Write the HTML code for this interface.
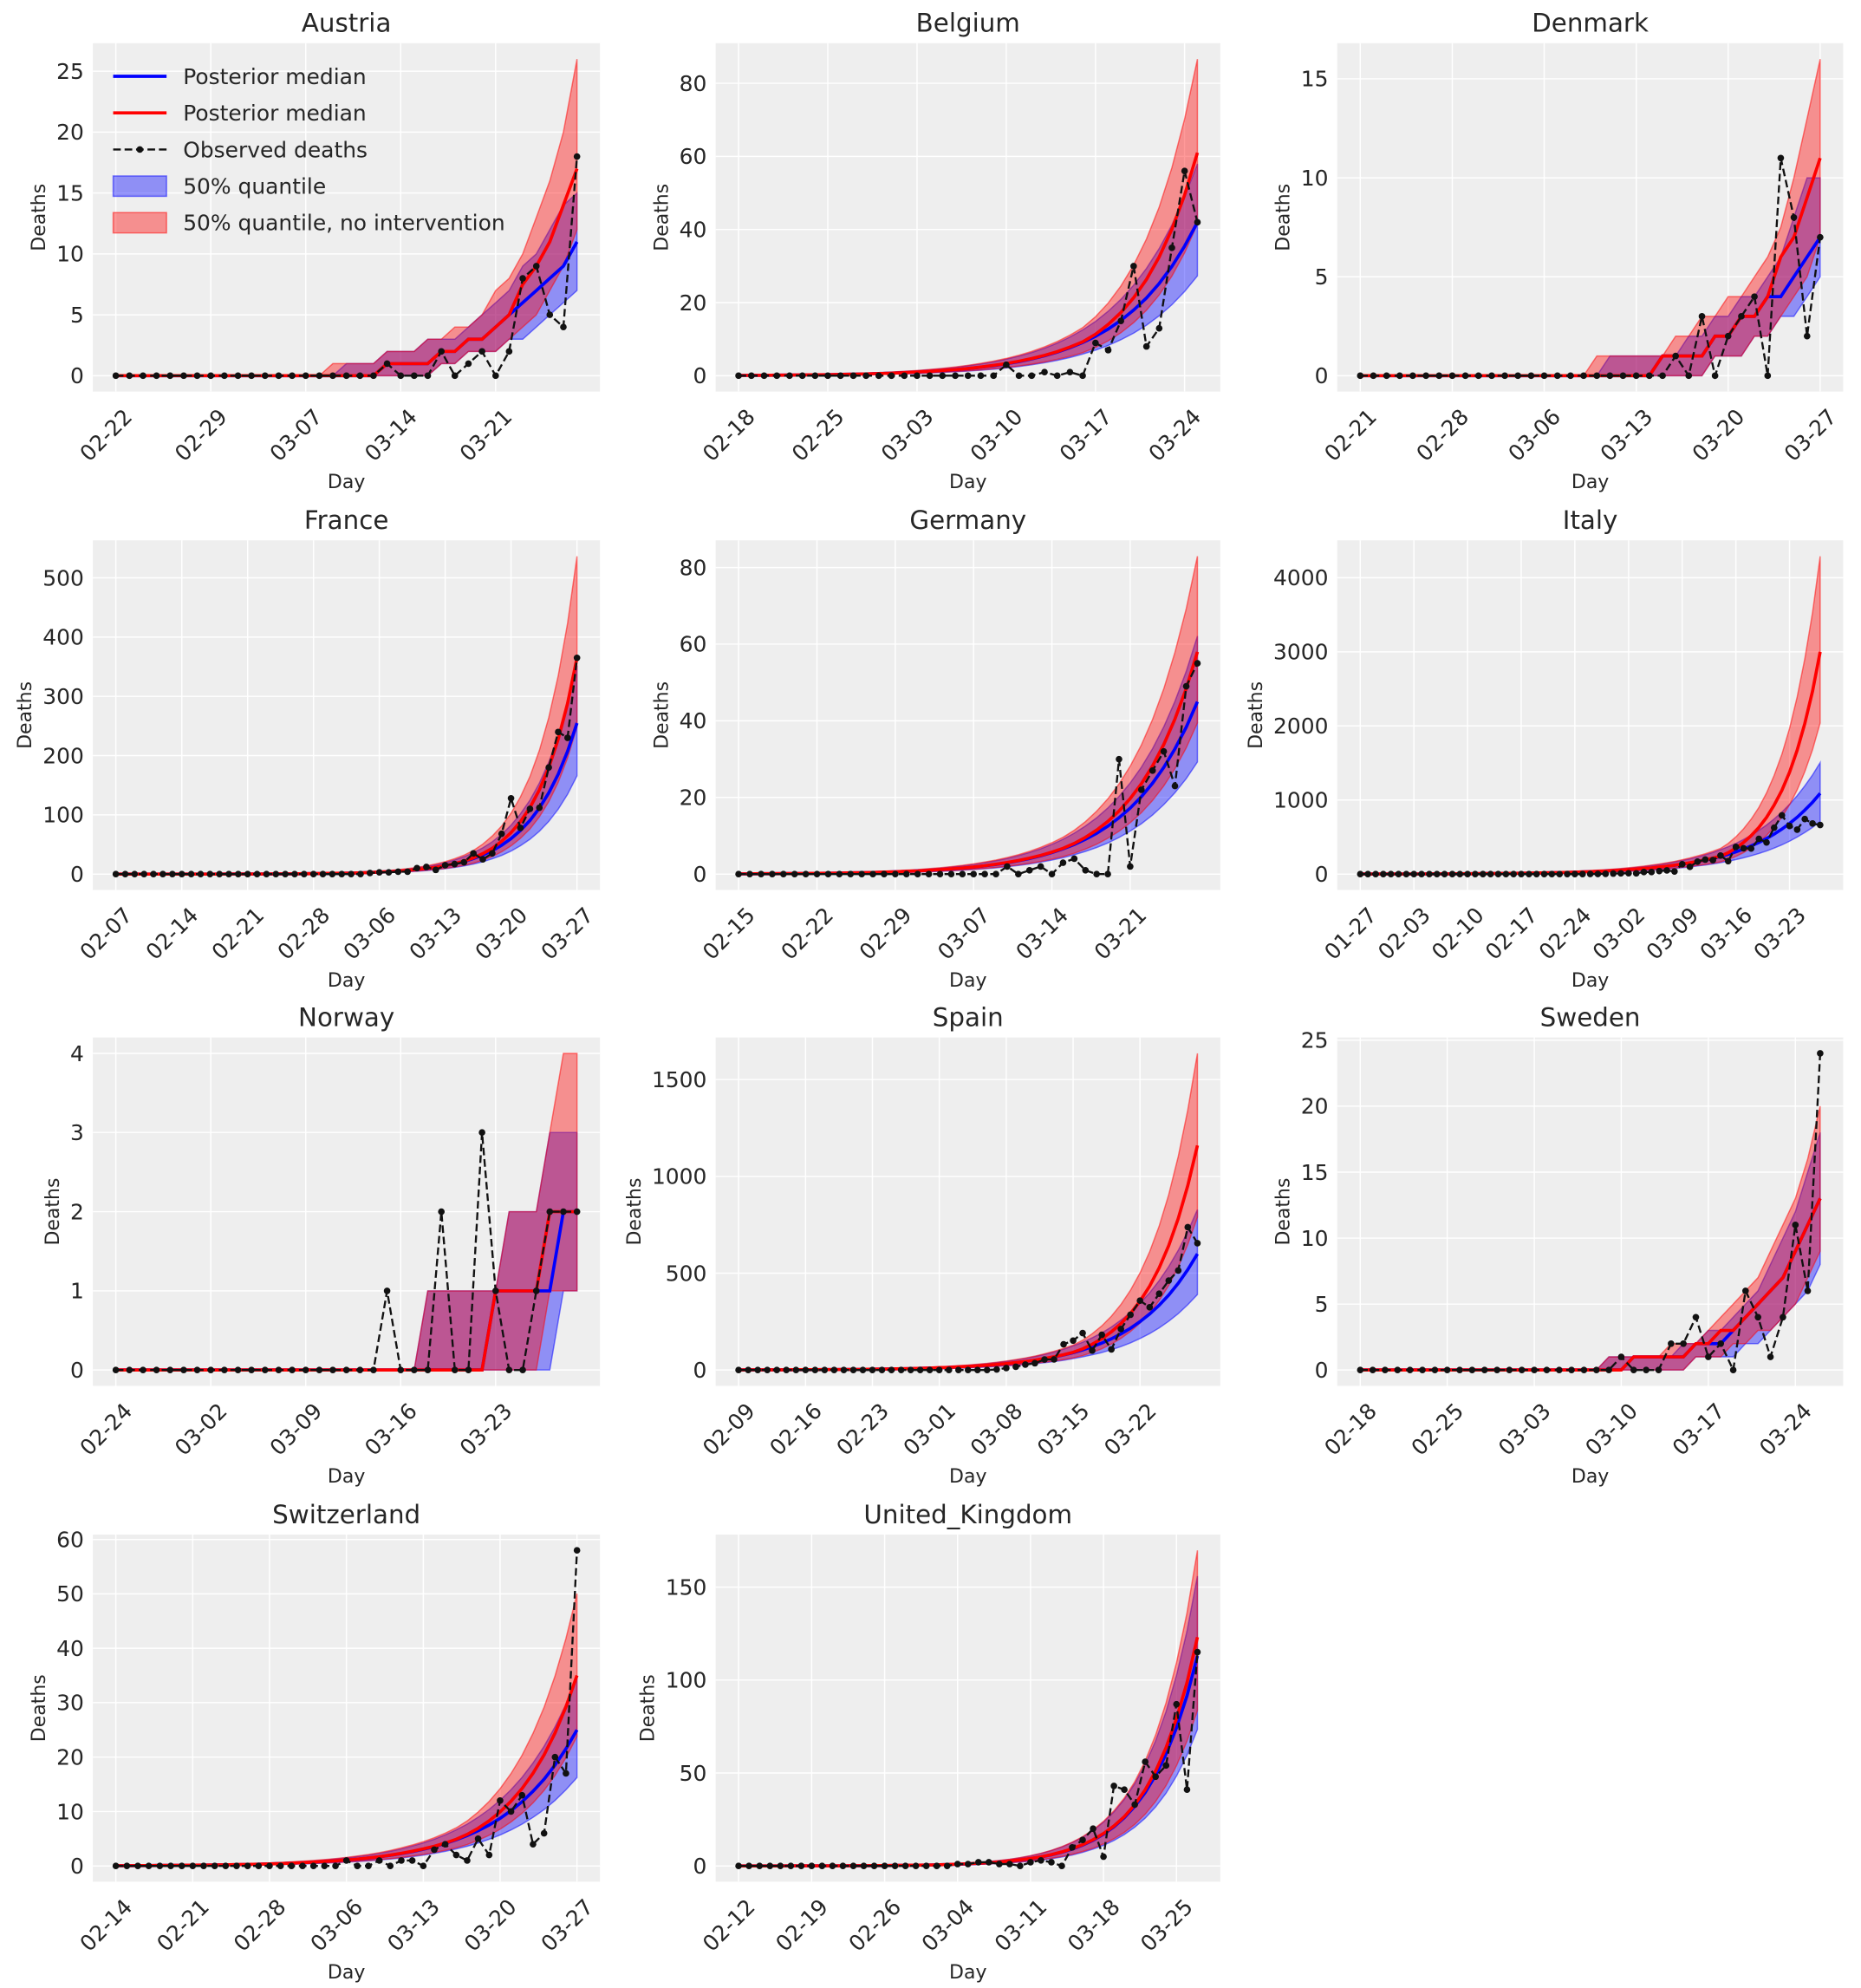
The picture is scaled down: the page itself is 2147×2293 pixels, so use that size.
<!DOCTYPE html>
<html><head><meta charset="utf-8"><style>
html,body{margin:0;padding:0;background:#fff}
svg{display:block}
text{font-family:"DejaVu Sans","Liberation Sans",sans-serif;fill:#262626}
</style></head><body>
<svg id="s" xmlns="http://www.w3.org/2000/svg" width="2147" height="2293" viewBox="0 0 1464 1563.6"></svg>
<script>
const Z=n=>Array(n).fill(0);
const P=(n,a)=>Z(n-a.length).concat(a);
const C=[
{name:"Austria",start:[2,22],obs:Z(20).concat([1,0,0,0,2,0,1,2,0,2,8,9,5,4,18]),ticks:[0,5,10,15,20,25],
 man:{mb:P(35,[1,1,1,1,2,2,3,3,4,5,6,7,8,9,11]),mr:P(35,[1,1,1,1,2,2,3,3,4,5,7.5,9,11,14,17]),
 bl:P(35,[1,1,2,2,2,3,3,4,5,6,7]),bh:P(35,[1,1,1,2,2,2,3,3,3,4,5,6,7,9,10,12,14,15]),
 rl:P(35,[1,1,2,2,2,3,4,5,7,9,12]),rh:P(35,[1,1,1,1,2,2,2,3,3,4,4,5,7,8,10,13,16,20,26])}},
{name:"Belgium",start:[2,18],obs:Z(21).concat([3,0,0,1,0,1,0,9,7,15,30,8,13,35,56,42]),B:42,R:61,rB:0.17,rR:0.21,rf:1.42,ticks:[0,20,40,60,80]},
{name:"Denmark",start:[2,21],obs:Z(24).concat([1,0,3,0,2,3,4,0,11,8,2,7]),ticks:[0,5,10,15],
 man:{mb:P(36,[1,1,1,1,2,2,3,3,4,4,5,6,7]),mr:P(36,[1,1,1,1,2,2,3,3,4,6,7,9,11]),
 bl:P(36,[1,1,1,2,2,3,3,4,5]),bh:P(36,[1,1,1,1,1,1,2,2,3,3,4,4,5,6,8,10,10]),
 rl:P(36,[1,1,1,2,2,3,4,5,7]),rh:P(36,[1,1,1,1,1,1,2,2,3,3,4,4,5,6,7.5,10,13,16])}},
{name:"France",start:[2,7],obs:Z(27).concat([2,3,3,4,4,10,12,7,15,17,20,35,25,35,68,128,78,110,112,180,240,230,365]),B:255,R:365,rB:0.207,rR:0.236,rf:1.47,ticks:[0,100,200,300,400,500]},
{name:"Germany",start:[2,15],obs:Z(24).concat([2,0,1,2,0,3,4,1,0,0,30,2,22,27,32,23,49,55]),B:45,R:58,rB:0.16,rR:0.18,rf:1.43,ticks:[0,20,40,60,80]},
{name:"Italy",start:[1,27],obs:Z(30).concat([1,2,3,7,10,12,11,27,28,41,49,36,133,97,168,196,189,250,175,368,349,345,475,427,627,793,651,601,743,683,662]),B:1090,R:3000,rB:0.117,rR:0.195,rf:1.43,ticks:[0,1000,2000,3000,4000]},
{name:"Norway",start:[2,24],obs:Z(20).concat([1,0,0,0,2,0,0,3,1,0,0,1,2,2,2]),ticks:[0,1,2,3,4],
 man:{mb:P(35,[1,1,1,1,1,2,2]),mr:P(35,[1,1,1,1,2,2,2]),
 bl:P(35,[1,1]),bh:P(35,[1,1,1,1,1,1,2,2,2,3,3,3]),
 rl:P(35,[1,1,1]),rh:P(35,[1,1,1,1,1,1,2,2,2,3,4,4])}},
{name:"Spain",start:[2,9],obs:Z(27).concat([3,10,17,28,35,54,55,133,152,191,100,182,107,212,285,358,324,394,462,514,738,655]),B:600,R:1160,rB:0.146,rR:0.197,rf:1.41,ticks:[0,500,1000,1500]},
{name:"Sweden",start:[2,18],obs:Z(20).concat([0,1,0,0,0,2,2,4,1,2,0,6,4,1,4,11,6,24]),B:13,R:13,rB:0.208,rR:0.208,round:1,ticks:[0,5,10,15,20,25]},
{name:"Switzerland",start:[2,14],obs:Z(21).concat([1,0,0,1,0,1,1,0,3,4,2,1,5,2,12,10,13,4,6,20,17,58]),B:25,R:35,rB:0.15,rR:0.18,rf:1.43,ticks:[0,10,20,30,40,50,60]},
{name:"United_Kingdom",start:[2,12],obs:Z(21).concat([1,1,2,2,1,1,0,2,3,2,0,10,14,20,5,43,41,33,56,48,54,87,41,115]),B:113,R:123,rB:0.21,rR:0.22,rf:1.38,ticks:[0,50,100,150]}
];
const cols=[[73,472],[563,960],[1052,1450]],rows=[[34,308],[425,700],[816,1090],[1207,1480]];
let out="";
const f=v=>v.toFixed(1);
C.forEach((c,i)=>{
 const [x0,x1]=cols[i%3],[y0,y1]=rows[Math.floor(i/3)];
 const n=c.obs.length,last=n-1;
 let mb=[],mr=[],bl=[],bh=[],rl=[],rh=[];
 if(c.man){({mb,mr,bl,bh,rl,rh}=c.man);}
 else {
  const rf=c.rf||1.5;
  for(let t=0;t<n;t++){
   let b=c.B*Math.exp(c.rB*(t-last)), r=Math.max(b*1.02,c.R*Math.exp(c.rR*(t-last)));
   let a=[b,r,b*0.65,b*1.38,r*0.68,r*rf];
   if(c.round)a=a.map((v,k)=>k==2||k==4?Math.floor(v):Math.round(v));
   mb.push(a[0]);mr.push(a[1]);bl.push(a[2]);bh.push(a[3]);rl.push(a[4]);rh.push(a[5]);
  }
 }
 const ymax=Math.max(...rh,...c.obs),ylo=-0.05*ymax,yhi=1.05*ymax;
 const X=t=>x0+(t+0.05*last)/(1.1*last)*(x1-x0);
 const Y=v=>y1-(v-ylo)/(yhi-ylo)*(y1-y0);
 out+=`<rect x="${x0}" y="${y0}" width="${x1-x0}" height="${y1-y0}" fill="#eeeeee"/>`;
 out+=`<text x="${(x0+x1)/2}" y="${y0-9}" font-size="20" text-anchor="middle">${c.name}</text>`;
 let maxw=0;
 c.ticks.forEach(v=>{const y=Y(v);out+=`<line x1="${x0}" x2="${x1}" y1="${f(y)}" y2="${f(y)}" stroke="#fff" stroke-width="1"/>`;
  out+=`<text x="${x0-7}" y="${f(y+6)}" font-size="17" text-anchor="end">${v}</text>`;maxw=Math.max(maxw,String(v).length*10.8);});
 for(let t=0;t<n;t+=7){
  const x=X(t);const d=new Date(Date.UTC(2020,c.start[0]-1,c.start[1]+t));
  const lab=String(d.getUTCMonth()+1).padStart(2,"0")+"-"+String(d.getUTCDate()).padStart(2,"0");
  out+=`<line x1="${f(x)}" x2="${f(x)}" y1="${y0}" y2="${y1}" stroke="#fff" stroke-width="1"/>`;
  out+=`<text transform="translate(${f(x+5)},${y1+12}) rotate(-45)" font-size="17" text-anchor="end" dominant-baseline="hanging">${lab}</text>`;
 }
 out+=`<text x="${(x0+x1)/2}" y="${y1+76}" font-size="15" text-anchor="middle">Day</text>`;
 const lx=x0-7-maxw-9;
 out+=`<text transform="translate(${f(lx)},${(y0+y1)/2}) rotate(-90)" font-size="15" text-anchor="middle">Deaths</text>`;
 const band=(lo,hi,col)=>{let p="M";for(let t=0;t<n;t++)p+=f(X(t))+","+f(Y(hi[t]))+" L";for(let t=n-1;t>=0;t--)p+=f(X(t))+","+f(Y(lo[t]))+(t?" L":" Z");
  return `<path d="${p}" fill="${col}" fill-opacity="0.4" stroke="${col}" stroke-opacity="0.5" stroke-width="1"/>`};
 const line=(a,attr)=>`<polyline points="${a.map((v,t)=>f(X(t))+","+f(Y(v))).join(" ")}" fill="none" ${attr}/>`;
 out+=band(bl,bh,"#0000ff")+band(rl,rh,"#ff0000");
 out+=line(mb,'stroke="#0000ff" stroke-width="2.5"')+line(mr,'stroke="#ff0000" stroke-width="2.5"');
 out+=line(c.obs,'stroke="#111" stroke-width="1.6" stroke-dasharray="6,3"');
 c.obs.forEach((v,t)=>out+=`<circle cx="${f(X(t))}" cy="${f(Y(v))}" r="2.6" fill="#111"/>`);
});
const L=[["b","Posterior median"],["r","Posterior median"],["o","Observed deaths"],["qb","50% quantile"],["qr","50% quantile, no intervention"]];
L.forEach((l,k)=>{const y=60+k*28.8;
 if(l[0]=="b")out+=`<line x1="89" x2="131" y1="${y}" y2="${y}" stroke="#0000ff" stroke-width="2.5"/>`;
 if(l[0]=="r")out+=`<line x1="89" x2="131" y1="${y}" y2="${y}" stroke="#ff0000" stroke-width="2.5"/>`;
 if(l[0]=="o")out+=`<line x1="89" x2="131" y1="${y}" y2="${y}" stroke="#111" stroke-width="1.6" stroke-dasharray="6,3"/><circle cx="110" cy="${y}" r="2.6" fill="#111"/>`;
 if(l[0]=="qb")out+=`<rect x="89" y="${y-8}" width="42" height="16" fill="#0000ff" fill-opacity="0.4" stroke="#0000ff" stroke-opacity="0.5"/>`;
 if(l[0]=="qr")out+=`<rect x="89" y="${y-8}" width="42" height="16" fill="#ff0000" fill-opacity="0.4" stroke="#ff0000" stroke-opacity="0.5"/>`;
 out+=`<text x="144" y="${y+6}" font-size="17">${l[1]}</text>`;
});
document.getElementById("s").innerHTML=out;
</script>
</body></html>
